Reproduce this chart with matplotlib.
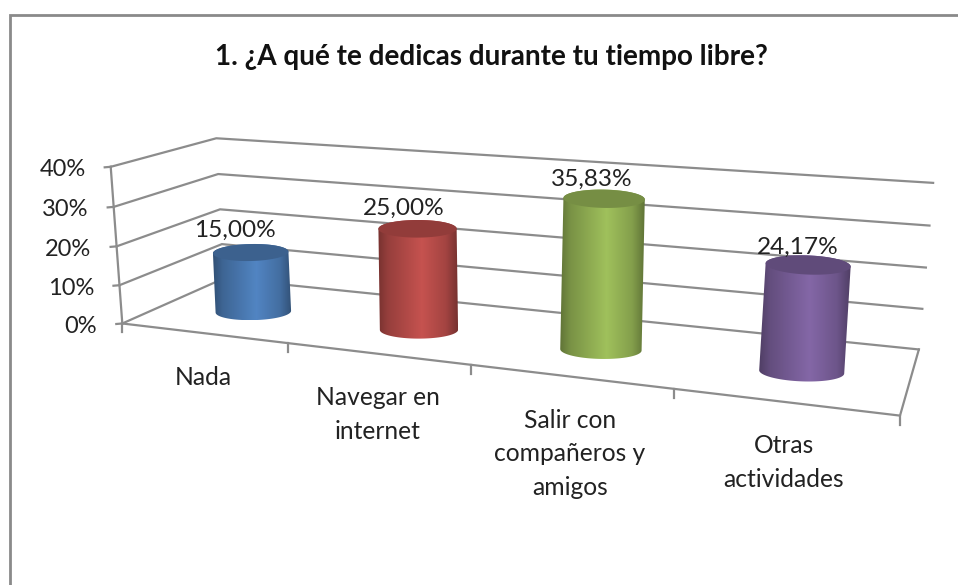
import numpy as np
import matplotlib
matplotlib.use('Agg')
import matplotlib.pyplot as plt
from matplotlib.patches import Polygon

categories = [['Nada'], ['Navegar en', 'internet'], ['Salir con', 'compañeros y', 'amigos'], ['Otras', 'actividades']]
values = [15.00, 25.00, 35.83, 24.17]
value_labels = ['15,00%', '25,00%', '35,83%', '24,17%']
y_ticks = [0, 10, 20, 30, 40]
y_max = 40
body_colors = ['#4F81BD', '#C0504D', '#9BBB59', '#8064A2']
top_colors = ['#3C618E', '#923C3A', '#768E44', '#604B7A']

plt.rcParams['font.family'] = ['Lato', 'DejaVu Sans']
GRID = '#8C8C8C'
TEXT = '#222222'

# fit a camera to the corners of the 3d box: (u, v, z) -> pixel
corners = [((0, 0, 0), (123, 323)), ((0, 0, 1), (110, 167)),
           ((0, 1, 0), (223, 279)), ((0, 1, 1), (217, 138)),
           ((1, 1, 0), (919, 349)), ((1, 1, 1), (933, 183)),
           ((1, 0, 0), (900, 416))]
A, b = [], []
for (u, v, z), (px, py) in corners:
    A.append([u, v, z, 1, 0, 0, 0, 0, -px*u, -px*v, -px*z])
    A.append([0, 0, 0, 0, u, v, z, 1, -py*u, -py*v, -py*z])
    b += [px, py]
cam = np.append(np.linalg.lstsq(np.array(A, float), np.array(b, float), rcond=None)[0], 1).reshape(3, 4)


def project(u, v, z):
    u, v, z = np.broadcast_arrays(u, v, z)
    p = cam @ np.stack([u, v, z, np.ones_like(u)], dtype=float)
    return p[0]/p[2], p[1]/p[2]


def ellipse(cx, cy, rx, tilt, t):
    # cylinder end as seen on screen, nearly flat to the viewer
    dx = rx*np.cos(t)
    return np.column_stack([cx + dx, cy + 0.225*rx*np.sin(t) + tilt*dx])


fig = plt.figure(figsize=(9.58, 5.85), dpi=100)
ax = fig.add_axes([0, 0, 1, 1])

# chart frame, only top and left are in the crop
ax.plot([10, 10, 958], [585, 15, 15], color='#8A8A8A', lw=2, zorder=1, solid_joinstyle='miter')

# grid lines on the walls
for t in y_ticks:
    z = t/y_max
    x, y = project([0, 0, 1], [0, 1, 1], [z, z, z])
    ax.plot(x, y, color=GRID, lw=1.6, zorder=2, solid_joinstyle='miter')
    tx, ty = project(0, 0, z)
    ax.plot([tx-6, tx], [ty+0.5, ty], color=GRID, lw=1.6, zorder=2)
    ax.text(tx-25, ty+3, f'{t}%', ha='right', va='center', fontsize=17, color=TEXT, zorder=5)

# left edge, floor edges
x, y = project([0, 0], [0, 0], [0, 1])
ax.plot(x, y, color=GRID, lw=1.6, zorder=2)
x, y = project([0, 1, 1], [0, 0, 1], [0, 0, 0])
ax.plot(x, y, color=GRID, lw=1.6, zorder=2, solid_joinstyle='miter')

n = len(values)
for i in range(n + 1):
    tx, ty = project(i/n, 0, 0)
    ax.plot([tx, tx], [ty, ty+9], color=GRID, lw=1.6, zorder=2)

# cylinders
lower_arc = np.linspace(np.pi, 0, 60)
upper_arc = np.linspace(0, -np.pi, 60)
full = np.linspace(0, 2*np.pi, 120)
for i in range(n):
    uc = (i + 0.5)/n
    zt = values[i]/y_max
    bx, by = project(uc, 0.5, 0)
    by = by + 3.5
    tx, ty = project(uc, 0.5, zt)
    x0, _ = project(uc - 0.05, 0.5, 0)
    x1, _ = project(uc + 0.05, 0.5, 0)
    rx = 0.45*(x1 - x0)/2 + 23.5
    tilt = 0.08*(uc - 0.4)

    outline = np.vstack([ellipse(bx, by, rx, tilt, lower_arc), ellipse(tx, ty, rx, tilt, upper_arc)])
    top = ellipse(tx, ty, rx, tilt, full)

    # shading across the width of the cylinder
    s = np.linspace(0, 1, 200)
    shade = np.interp(s, [0, 0.12, 0.55, 0.85, 1], [0.62, 0.78, 1.03, 0.85, 0.62])
    rgb = np.array(matplotlib.colors.to_rgb(body_colors[i]))
    img = np.clip(shade[:, None]*rgb, 0, 1)[None, :, :]
    im = ax.imshow(img, extent=[outline[:, 0].min(), outline[:, 0].max(), outline[:, 1].max(), outline[:, 1].min()],
                   aspect='auto', zorder=3, interpolation='bilinear')
    patch = Polygon(outline, closed=True, fc='none', ec='none')
    ax.add_patch(patch)
    im.set_clip_path(patch)
    ax.add_patch(Polygon(top, closed=True, fc=top_colors[i], ec='none', zorder=4))

    ax.text(tx - 17 + 8*uc, top[:, 1].min() - 14.5 + 7*uc, value_labels[i], ha='center', va='center',
            fontsize=17.6, color=TEXT, zorder=5)

    # category labels
    lx, ly = project(uc, 0, 0)
    for k, line in enumerate(categories[i]):
        ax.text(lx, ly + 44 + 33.3*k, line, ha='center', va='center', fontsize=17.7, color=TEXT, zorder=5)

ax.set_xlim(0, 958)
ax.set_ylim(585, 0)
ax.axis('off')
ax.text(491, 57, '1. ¿A qué te dedicas durante tu tiempo libre?', ha='center', va='center',
        fontsize=20.05, fontweight='bold', color='#111111', zorder=5)

fig.savefig('out.png', dpi=100, facecolor='white')
